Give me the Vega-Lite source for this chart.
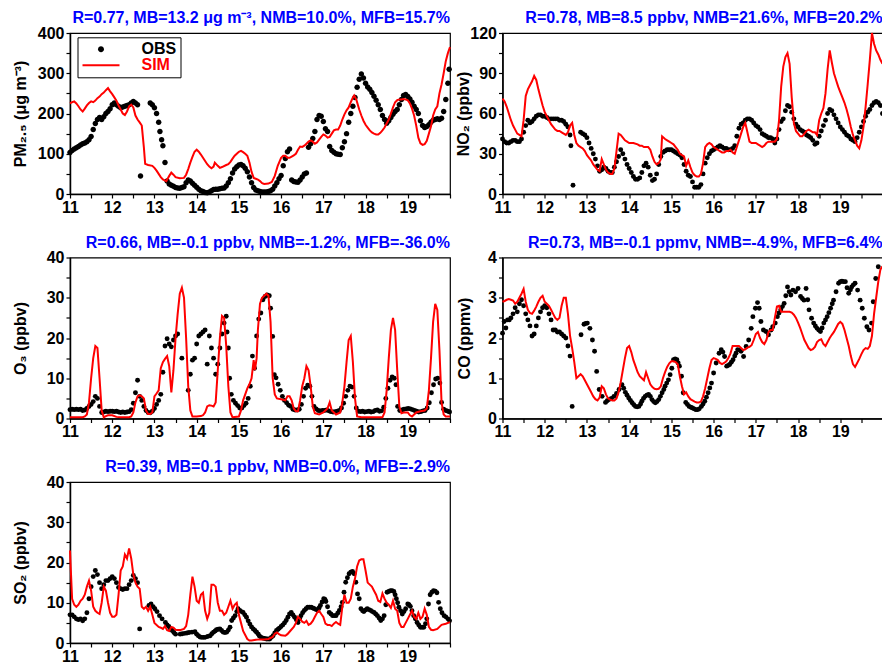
{
"$schema": "https://vega.github.io/schema/vega-lite/v6.json",
"padding": {"left": 11, "top": 9, "right": 0, "bottom": 0},
"background": "white",
"columns": 2,
"bounds": "flush",
"spacing": {"row": 63.5, "column": 52.5},
"resolve": {"scale": {"color": "independent", "shape": "independent"}, "legend": {"color": "independent", "shape": "independent"}},
"config": {
  "font": "Liberation Sans",
  "view": {"stroke": "black", "strokeWidth": 1.2},
  "axis": {"grid": false, "domainColor": "black", "domainWidth": 1.5, "tickColor": "black", "tickWidth": 1.2, "tickSize": 4, "labelFont": "Liberation Sans", "labelFontSize": 16, "labelFontWeight": "bold", "labelColor": "black", "labelPadding": 2, "labelFlush": false, "labelOverlap": false, "titleFont": "Liberation Sans", "titleFontSize": 16, "titleFontWeight": "bold", "titleColor": "black"},
  "axisX": {"labelPadding": 1},
  "title": {"font": "Liberation Sans", "fontSize": 16, "fontWeight": "bold", "color": "#0000ff", "anchor": "end", "frame": "group", "offset": -1}
},
"datasets": {
"pm_obs": [{"d":11.00,"v":103},{"d":11.05,"v":108},{"d":11.10,"v":112},{"d":11.15,"v":115},{"d":11.20,"v":118},{"d":11.25,"v":122},{"d":11.30,"v":125},{"d":11.35,"v":127},{"d":11.40,"v":130},{"d":11.45,"v":135},{"d":11.50,"v":143},{"d":11.55,"v":160},{"d":11.60,"v":175},{"d":11.65,"v":185},{"d":11.70,"v":190},{"d":11.75,"v":185},{"d":11.80,"v":192},{"d":11.85,"v":200},{"d":11.90,"v":205},{"d":11.95,"v":212},{"d":12.00,"v":222},{"d":12.05,"v":226},{"d":12.10,"v":222},{"d":12.15,"v":218},{"d":12.20,"v":214},{"d":12.25,"v":216},{"d":12.30,"v":218},{"d":12.35,"v":220},{"d":12.40,"v":222},{"d":12.45,"v":226},{"d":12.50,"v":230},{"d":12.55,"v":226},{"d":12.60,"v":222},{"d":12.67,"v":45},{"d":12.90,"v":226},{"d":12.95,"v":222},{"d":13.00,"v":214},{"d":13.05,"v":200},{"d":13.10,"v":178},{"d":13.13,"v":155},{"d":13.17,"v":135},{"d":13.20,"v":120},{"d":13.25,"v":78},{"d":13.30,"v":32},{"d":13.35,"v":25},{"d":13.40,"v":22},{"d":13.45,"v":19},{"d":13.50,"v":16},{"d":13.55,"v":15},{"d":13.60,"v":14},{"d":13.65,"v":16},{"d":13.70,"v":18},{"d":13.75,"v":28},{"d":13.80,"v":35},{"d":13.85,"v":32},{"d":13.90,"v":27},{"d":13.95,"v":22},{"d":14.00,"v":17},{"d":14.05,"v":12},{"d":14.10,"v":8},{"d":14.15,"v":6},{"d":14.20,"v":4},{"d":14.25,"v":3},{"d":14.30,"v":5},{"d":14.35,"v":8},{"d":14.40,"v":11},{"d":14.45,"v":12},{"d":14.50,"v":12},{"d":14.55,"v":13},{"d":14.60,"v":14},{"d":14.65,"v":15},{"d":14.70,"v":20},{"d":14.75,"v":28},{"d":14.80,"v":38},{"d":14.85,"v":52},{"d":14.90,"v":62},{"d":14.95,"v":68},{"d":15.00,"v":72},{"d":15.05,"v":73},{"d":15.10,"v":70},{"d":15.15,"v":64},{"d":15.20,"v":55},{"d":15.25,"v":42},{"d":15.30,"v":28},{"d":15.35,"v":16},{"d":15.40,"v":10},{"d":15.45,"v":8},{"d":15.50,"v":6},{"d":15.55,"v":5},{"d":15.60,"v":5},{"d":15.65,"v":5},{"d":15.70,"v":6},{"d":15.75,"v":8},{"d":15.80,"v":12},{"d":15.85,"v":20},{"d":15.90,"v":28},{"d":15.95,"v":38},{"d":16.00,"v":46},{"d":16.05,"v":70},{"d":16.10,"v":88},{"d":16.15,"v":105},{"d":16.20,"v":112},{"d":16.25,"v":35},{"d":16.30,"v":31},{"d":16.35,"v":30},{"d":16.40,"v":29},{"d":16.45,"v":35},{"d":16.50,"v":42},{"d":16.55,"v":50},{"d":16.60,"v":52},{"d":16.65,"v":116},{"d":16.70,"v":125},{"d":16.75,"v":138},{"d":16.80,"v":155},{"d":16.85,"v":185},{"d":16.90,"v":195},{"d":16.95,"v":193},{"d":17.00,"v":180},{"d":17.05,"v":162},{"d":17.10,"v":155},{"d":17.15,"v":118},{"d":17.20,"v":108},{"d":17.25,"v":104},{"d":17.30,"v":100},{"d":17.35,"v":99},{"d":17.40,"v":98},{"d":17.45,"v":115},{"d":17.50,"v":130},{"d":17.55,"v":150},{"d":17.60,"v":178},{"d":17.65,"v":200},{"d":17.70,"v":218},{"d":17.75,"v":240},{"d":17.80,"v":265},{"d":17.85,"v":285},{"d":17.90,"v":298},{"d":17.95,"v":288},{"d":18.00,"v":275},{"d":18.05,"v":266},{"d":18.10,"v":260},{"d":18.15,"v":252},{"d":18.20,"v":243},{"d":18.25,"v":233},{"d":18.30,"v":222},{"d":18.35,"v":210},{"d":18.40,"v":195},{"d":18.45,"v":185},{"d":18.50,"v":176},{"d":18.55,"v":182},{"d":18.60,"v":190},{"d":18.65,"v":198},{"d":18.70,"v":205},{"d":18.75,"v":210},{"d":18.80,"v":222},{"d":18.85,"v":235},{"d":18.90,"v":245},{"d":18.95,"v":247},{"d":19.00,"v":242},{"d":19.05,"v":236},{"d":19.10,"v":228},{"d":19.15,"v":218},{"d":19.20,"v":210},{"d":19.25,"v":200},{"d":19.30,"v":182},{"d":19.35,"v":170},{"d":19.40,"v":165},{"d":19.45,"v":168},{"d":19.50,"v":172},{"d":19.55,"v":178},{"d":19.60,"v":183},{"d":19.65,"v":185},{"d":19.70,"v":187},{"d":19.75,"v":185},{"d":19.80,"v":188},{"d":19.85,"v":205},{"d":19.90,"v":235},{"d":19.95,"v":275},{"d":19.98,"v":310}],
"pm_sim": [{"d":11.00,"v":225},{"d":11.05,"v":228},{"d":11.10,"v":230},{"d":11.15,"v":225},{"d":11.20,"v":218},{"d":11.25,"v":210},{"d":11.30,"v":205},{"d":11.35,"v":212},{"d":11.40,"v":220},{"d":11.45,"v":226},{"d":11.50,"v":230},{"d":11.55,"v":228},{"d":11.60,"v":232},{"d":11.65,"v":238},{"d":11.70,"v":242},{"d":11.75,"v":248},{"d":11.80,"v":252},{"d":11.85,"v":258},{"d":11.90,"v":263},{"d":11.95,"v":255},{"d":12.00,"v":248},{"d":12.05,"v":240},{"d":12.10,"v":232},{"d":12.15,"v":220},{"d":12.20,"v":210},{"d":12.25,"v":200},{"d":12.30,"v":196},{"d":12.35,"v":205},{"d":12.40,"v":218},{"d":12.45,"v":222},{"d":12.50,"v":215},{"d":12.55,"v":195},{"d":12.60,"v":185},{"d":12.65,"v":178},{"d":12.70,"v":170},{"d":12.75,"v":115},{"d":12.78,"v":75},{"d":12.85,"v":72},{"d":12.95,"v":70},{"d":13.00,"v":65},{"d":13.05,"v":58},{"d":13.10,"v":50},{"d":13.15,"v":42},{"d":13.20,"v":36},{"d":13.28,"v":32},{"d":13.35,"v":45},{"d":13.40,"v":53},{"d":13.45,"v":48},{"d":13.50,"v":42},{"d":13.60,"v":39},{"d":13.70,"v":40},{"d":13.75,"v":48},{"d":13.80,"v":62},{"d":13.85,"v":78},{"d":13.90,"v":92},{"d":13.95,"v":105},{"d":14.00,"v":110},{"d":14.05,"v":105},{"d":14.10,"v":98},{"d":14.15,"v":90},{"d":14.20,"v":82},{"d":14.25,"v":74},{"d":14.30,"v":68},{"d":14.35,"v":64},{"d":14.40,"v":68},{"d":14.43,"v":78},{"d":14.50,"v":70},{"d":14.55,"v":65},{"d":14.60,"v":67},{"d":14.70,"v":72},{"d":14.75,"v":74},{"d":14.80,"v":80},{"d":14.85,"v":88},{"d":14.90,"v":95},{"d":14.95,"v":100},{"d":15.00,"v":105},{"d":15.05,"v":107},{"d":15.10,"v":104},{"d":15.15,"v":100},{"d":15.20,"v":95},{"d":15.25,"v":78},{"d":15.30,"v":55},{"d":15.35,"v":40},{"d":15.40,"v":38},{"d":15.45,"v":36},{"d":15.50,"v":32},{"d":15.55,"v":27},{"d":15.60,"v":25},{"d":15.70,"v":26},{"d":15.78,"v":30},{"d":15.85,"v":45},{"d":15.92,"v":70},{"d":16.00,"v":90},{"d":16.05,"v":95},{"d":16.10,"v":95},{"d":16.15,"v":90},{"d":16.20,"v":90},{"d":16.25,"v":93},{"d":16.30,"v":96},{"d":16.35,"v":100},{"d":16.40,"v":110},{"d":16.45,"v":118},{"d":16.50,"v":117},{"d":16.55,"v":120},{"d":16.60,"v":125},{"d":16.65,"v":130},{"d":16.70,"v":133},{"d":16.75,"v":130},{"d":16.80,"v":125},{"d":16.85,"v":128},{"d":16.90,"v":135},{"d":16.95,"v":142},{"d":17.00,"v":148},{"d":17.05,"v":145},{"d":17.10,"v":140},{"d":17.15,"v":142},{"d":17.20,"v":150},{"d":17.25,"v":158},{"d":17.30,"v":160},{"d":17.35,"v":160},{"d":17.40,"v":170},{"d":17.45,"v":185},{"d":17.50,"v":198},{"d":17.55,"v":208},{"d":17.60,"v":215},{"d":17.65,"v":228},{"d":17.70,"v":240},{"d":17.73,"v":245},{"d":17.78,"v":235},{"d":17.85,"v":210},{"d":17.90,"v":195},{"d":17.95,"v":182},{"d":18.00,"v":172},{"d":18.05,"v":165},{"d":18.10,"v":158},{"d":18.15,"v":153},{"d":18.20,"v":150},{"d":18.25,"v":148},{"d":18.30,"v":148},{"d":18.35,"v":152},{"d":18.40,"v":158},{"d":18.45,"v":165},{"d":18.50,"v":175},{"d":18.55,"v":185},{"d":18.60,"v":200},{"d":18.65,"v":215},{"d":18.70,"v":228},{"d":18.75,"v":233},{"d":18.80,"v":235},{"d":18.85,"v":235},{"d":18.90,"v":236},{"d":18.95,"v":235},{"d":19.00,"v":233},{"d":19.05,"v":225},{"d":19.10,"v":212},{"d":19.15,"v":195},{"d":19.20,"v":170},{"d":19.25,"v":140},{"d":19.30,"v":126},{"d":19.35,"v":122},{"d":19.40,"v":124},{"d":19.45,"v":132},{"d":19.50,"v":150},{"d":19.55,"v":168},{"d":19.60,"v":195},{"d":19.65,"v":210},{"d":19.70,"v":218},{"d":19.75,"v":250},{"d":19.80,"v":272},{"d":19.85,"v":300},{"d":19.90,"v":330},{"d":19.95,"v":350},{"d":20.00,"v":365}],
"no2_obs": [{"d":11.00,"v":41},{"d":11.05,"v":39},{"d":11.10,"v":38},{"d":11.15,"v":38},{"d":11.20,"v":39},{"d":11.25,"v":40},{"d":11.30,"v":40},{"d":11.35,"v":39},{"d":11.40,"v":39},{"d":11.45,"v":41},{"d":11.50,"v":46},{"d":11.55,"v":51},{"d":11.60,"v":55},{"d":11.65,"v":53},{"d":11.70,"v":54},{"d":11.75,"v":56},{"d":11.80,"v":58},{"d":11.85,"v":59},{"d":11.90,"v":59},{"d":11.95,"v":58},{"d":12.00,"v":58},{"d":12.05,"v":57},{"d":12.10,"v":56},{"d":12.15,"v":56},{"d":12.20,"v":56},{"d":12.25,"v":56},{"d":12.30,"v":56},{"d":12.35,"v":55},{"d":12.40,"v":55},{"d":12.45,"v":54},{"d":12.50,"v":52},{"d":12.55,"v":50},{"d":12.60,"v":44},{"d":12.62,"v":36},{"d":12.67,"v":6.5},{"d":12.85,"v":46},{"d":12.90,"v":45},{"d":12.95,"v":44},{"d":13.00,"v":42},{"d":13.05,"v":38},{"d":13.10,"v":34},{"d":13.15,"v":30},{"d":13.20,"v":26},{"d":13.25,"v":21},{"d":13.30,"v":17},{"d":13.35,"v":18},{"d":13.40,"v":20},{"d":13.45,"v":19},{"d":13.50,"v":17},{"d":13.55,"v":16},{"d":13.60,"v":16},{"d":13.65,"v":20},{"d":13.70,"v":24},{"d":13.75,"v":28},{"d":13.80,"v":33},{"d":13.85,"v":30},{"d":13.90,"v":26},{"d":13.95,"v":22},{"d":14.00,"v":19},{"d":14.05,"v":16},{"d":14.10,"v":13},{"d":14.15,"v":11},{"d":14.20,"v":11},{"d":14.25,"v":12},{"d":14.30,"v":16},{"d":14.35,"v":21},{"d":14.40,"v":23},{"d":14.45,"v":20},{"d":14.50,"v":14},{"d":14.55,"v":10},{"d":14.60,"v":11},{"d":14.65,"v":15},{"d":14.70,"v":22},{"d":14.75,"v":28},{"d":14.80,"v":31},{"d":14.85,"v":32},{"d":14.90,"v":33},{"d":14.95,"v":33},{"d":15.00,"v":33},{"d":15.05,"v":32},{"d":15.10,"v":31},{"d":15.15,"v":30},{"d":15.20,"v":29},{"d":15.25,"v":27},{"d":15.30,"v":22},{"d":15.35,"v":17},{"d":15.40,"v":14},{"d":15.45,"v":13},{"d":15.50,"v":9},{"d":15.55,"v":5},{"d":15.60,"v":5},{"d":15.65,"v":5},{"d":15.70,"v":7},{"d":15.75,"v":15},{"d":15.80,"v":23},{"d":15.85,"v":27},{"d":15.90,"v":30},{"d":15.95,"v":32},{"d":16.00,"v":33},{"d":16.05,"v":34},{"d":16.10,"v":35},{"d":16.15,"v":36},{"d":16.20,"v":35},{"d":16.25,"v":34},{"d":16.30,"v":34},{"d":16.35,"v":33},{"d":16.40,"v":33},{"d":16.45,"v":34},{"d":16.50,"v":36},{"d":16.55,"v":43},{"d":16.60,"v":49},{"d":16.65,"v":52},{"d":16.70,"v":53},{"d":16.75,"v":55},{"d":16.80,"v":56},{"d":16.85,"v":56},{"d":16.90,"v":55},{"d":16.95,"v":53},{"d":17.00,"v":51},{"d":17.05,"v":50},{"d":17.10,"v":48},{"d":17.15,"v":45},{"d":17.20,"v":44},{"d":17.25,"v":43},{"d":17.30,"v":42},{"d":17.35,"v":42},{"d":17.40,"v":41},{"d":17.45,"v":38},{"d":17.50,"v":41},{"d":17.55,"v":48},{"d":17.60,"v":54},{"d":17.65,"v":56},{"d":17.70,"v":62},{"d":17.75,"v":66},{"d":17.80,"v":65},{"d":17.85,"v":61},{"d":17.90,"v":56},{"d":17.95,"v":52},{"d":18.00,"v":50},{"d":18.05,"v":48},{"d":18.10,"v":47},{"d":18.15,"v":46},{"d":18.20,"v":44},{"d":18.25,"v":43},{"d":18.30,"v":42},{"d":18.35,"v":40},{"d":18.40,"v":37},{"d":18.45,"v":38},{"d":18.50,"v":43},{"d":18.55,"v":47},{"d":18.60,"v":51},{"d":18.65,"v":55},{"d":18.70,"v":60},{"d":18.75,"v":63},{"d":18.80,"v":62},{"d":18.85,"v":59},{"d":18.90,"v":56},{"d":18.95,"v":53},{"d":19.00,"v":50},{"d":19.05,"v":48},{"d":19.10,"v":46},{"d":19.15,"v":44},{"d":19.20,"v":43},{"d":19.25,"v":41},{"d":19.30,"v":40},{"d":19.35,"v":39},{"d":19.40,"v":42},{"d":19.45,"v":46},{"d":19.50,"v":50},{"d":19.55,"v":54},{"d":19.60,"v":58},{"d":19.65,"v":61},{"d":19.70,"v":63},{"d":19.75,"v":66},{"d":19.80,"v":68},{"d":19.85,"v":69},{"d":19.90,"v":68},{"d":19.95,"v":66},{"d":20.00,"v":60}],
"no2_sim": [{"d":11.00,"v":71},{"d":11.05,"v":69},{"d":11.10,"v":65},{"d":11.15,"v":60},{"d":11.20,"v":55},{"d":11.25,"v":51},{"d":11.30,"v":48},{"d":11.35,"v":45},{"d":11.40,"v":44},{"d":11.45,"v":43},{"d":11.50,"v":55},{"d":11.55,"v":73},{"d":11.60,"v":78},{"d":11.65,"v":81},{"d":11.70,"v":84},{"d":11.75,"v":88},{"d":11.80,"v":85},{"d":11.85,"v":78},{"d":11.90,"v":72},{"d":11.95,"v":66},{"d":12.00,"v":61},{"d":12.05,"v":58},{"d":12.10,"v":55},{"d":12.15,"v":52},{"d":12.20,"v":50},{"d":12.25,"v":48},{"d":12.30,"v":47},{"d":12.35,"v":47},{"d":12.40,"v":46},{"d":12.45,"v":45},{"d":12.50,"v":44},{"d":12.55,"v":46},{"d":12.60,"v":51},{"d":12.65,"v":53},{"d":12.70,"v":44},{"d":12.75,"v":38},{"d":12.80,"v":36},{"d":12.85,"v":35},{"d":12.90,"v":34},{"d":12.95,"v":32},{"d":13.00,"v":29},{"d":13.05,"v":27},{"d":13.10,"v":25},{"d":13.15,"v":22},{"d":13.20,"v":20},{"d":13.25,"v":18},{"d":13.30,"v":17},{"d":13.35,"v":26},{"d":13.40,"v":22},{"d":13.45,"v":18},{"d":13.50,"v":16},{"d":13.55,"v":15},{"d":13.60,"v":15},{"d":13.65,"v":19},{"d":13.70,"v":32},{"d":13.75,"v":45},{"d":13.80,"v":44},{"d":13.85,"v":42},{"d":13.90,"v":40},{"d":13.95,"v":39},{"d":14.00,"v":38},{"d":14.10,"v":38},{"d":14.20,"v":37},{"d":14.25,"v":36},{"d":14.30,"v":36},{"d":14.35,"v":35},{"d":14.45,"v":35},{"d":14.50,"v":33},{"d":14.55,"v":28},{"d":14.60,"v":24},{"d":14.65,"v":22},{"d":14.70,"v":23},{"d":14.75,"v":26},{"d":14.78,"v":43},{"d":14.85,"v":41},{"d":14.90,"v":40},{"d":14.95,"v":39},{"d":15.00,"v":38},{"d":15.05,"v":37},{"d":15.10,"v":35},{"d":15.15,"v":33},{"d":15.20,"v":30},{"d":15.25,"v":29},{"d":15.30,"v":28},{"d":15.35,"v":21},{"d":15.40,"v":25},{"d":15.45,"v":20},{"d":15.50,"v":16},{"d":15.55,"v":14},{"d":15.60,"v":13},{"d":15.65,"v":13},{"d":15.70,"v":15},{"d":15.75,"v":23},{"d":15.80,"v":35},{"d":15.85,"v":37},{"d":15.90,"v":38},{"d":15.95,"v":37},{"d":16.00,"v":35},{"d":16.05,"v":34},{"d":16.10,"v":33},{"d":16.15,"v":32},{"d":16.20,"v":31},{"d":16.25,"v":31},{"d":16.30,"v":32},{"d":16.35,"v":32},{"d":16.40,"v":33},{"d":16.45,"v":31},{"d":16.50,"v":30},{"d":16.55,"v":35},{"d":16.60,"v":40},{"d":16.65,"v":45},{"d":16.70,"v":50},{"d":16.75,"v":53},{"d":16.80,"v":46},{"d":16.85,"v":39},{"d":16.90,"v":38},{"d":17.00,"v":38},{"d":17.05,"v":37},{"d":17.10,"v":36},{"d":17.15,"v":35},{"d":17.20,"v":36},{"d":17.25,"v":38},{"d":17.30,"v":39},{"d":17.45,"v":39},{"d":17.50,"v":41},{"d":17.55,"v":55},{"d":17.60,"v":80},{"d":17.65,"v":95},{"d":17.70,"v":102},{"d":17.75,"v":105},{"d":17.80,"v":97},{"d":17.85,"v":72},{"d":17.90,"v":53},{"d":17.95,"v":47},{"d":18.00,"v":45},{"d":18.05,"v":43},{"d":18.10,"v":43},{"d":18.15,"v":45},{"d":18.20,"v":47},{"d":18.25,"v":48},{"d":18.30,"v":47},{"d":18.35,"v":46},{"d":18.40,"v":46},{"d":18.45,"v":44},{"d":18.50,"v":55},{"d":18.55,"v":60},{"d":18.60,"v":64},{"d":18.65,"v":75},{"d":18.70,"v":93},{"d":18.75,"v":107},{"d":18.80,"v":98},{"d":18.85,"v":90},{"d":18.90,"v":85},{"d":18.95,"v":80},{"d":19.00,"v":76},{"d":19.05,"v":72},{"d":19.10,"v":68},{"d":19.15,"v":63},{"d":19.20,"v":57},{"d":19.25,"v":50},{"d":19.30,"v":44},{"d":19.35,"v":40},{"d":19.40,"v":36},{"d":19.45,"v":34},{"d":19.50,"v":40},{"d":19.55,"v":50},{"d":19.60,"v":65},{"d":19.65,"v":82},{"d":19.70,"v":100},{"d":19.75,"v":120},{"d":19.80,"v":112},{"d":19.85,"v":107},{"d":19.90,"v":104},{"d":19.95,"v":100},{"d":20.00,"v":97}],
"o3_obs": [{"d":11.00,"v":2.2},{"d":11.05,"v":2.3},{"d":11.10,"v":2.2},{"d":11.15,"v":2.3},{"d":11.20,"v":2.2},{"d":11.25,"v":2.3},{"d":11.30,"v":2.0},{"d":11.35,"v":2.1},{"d":11.40,"v":2.5},{"d":11.45,"v":3.0},{"d":11.50,"v":3.5},{"d":11.55,"v":4.2},{"d":11.60,"v":5.5},{"d":11.65,"v":5.0},{"d":11.70,"v":3.0},{"d":11.75,"v":1.5},{"d":11.80,"v":1.6},{"d":11.85,"v":1.8},{"d":11.90,"v":1.7},{"d":11.95,"v":1.8},{"d":12.00,"v":1.8},{"d":12.05,"v":1.7},{"d":12.10,"v":1.8},{"d":12.15,"v":1.6},{"d":12.20,"v":1.5},{"d":12.25,"v":1.6},{"d":12.30,"v":1.5},{"d":12.35,"v":1.6},{"d":12.40,"v":1.7},{"d":12.45,"v":2.2},{"d":12.50,"v":3.8},{"d":12.55,"v":6.4},{"d":12.60,"v":9.5},{"d":12.65,"v":5.5},{"d":12.70,"v":4.5},{"d":12.75,"v":3.0},{"d":12.80,"v":2.0},{"d":12.85,"v":1.5},{"d":12.90,"v":1.4},{"d":12.95,"v":1.8},{"d":13.00,"v":2.5},{"d":13.05,"v":3.5},{"d":13.10,"v":4.5},{"d":13.15,"v":6.0},{"d":13.20,"v":11.5},{"d":13.25,"v":18.0},{"d":13.30,"v":19.8},{"d":13.35,"v":18.5},{"d":13.40,"v":17.8},{"d":13.45,"v":19.5},{"d":13.50,"v":20.5},{"d":13.55,"v":21.0},{"d":13.65,"v":15.0},{"d":13.80,"v":7.0},{"d":13.85,"v":11.0},{"d":13.90,"v":14.5},{"d":13.95,"v":15.0},{"d":14.00,"v":18.5},{"d":14.05,"v":20.5},{"d":14.10,"v":21.0},{"d":14.15,"v":21.5},{"d":14.20,"v":22.0},{"d":14.25,"v":13.5},{"d":14.30,"v":20.5},{"d":14.35,"v":17.5},{"d":14.40,"v":15.0},{"d":14.45,"v":11.0},{"d":14.50,"v":13.5},{"d":14.55,"v":17.5},{"d":14.60,"v":21.0},{"d":14.65,"v":23.7},{"d":14.70,"v":25.4},{"d":14.72,"v":21.5},{"d":14.75,"v":17.5},{"d":14.78,"v":10.0},{"d":14.82,"v":6.0},{"d":14.87,"v":4.5},{"d":14.92,"v":3.8},{"d":14.97,"v":3.2},{"d":15.02,"v":2.6},{"d":15.07,"v":2.6},{"d":15.12,"v":3.2},{"d":15.17,"v":3.8},{"d":15.22,"v":5.0},{"d":15.27,"v":8.0},{"d":15.32,"v":15.5},{"d":15.37,"v":12.5},{"d":15.42,"v":20.5},{"d":15.47,"v":24.7},{"d":15.52,"v":26.2},{"d":15.57,"v":29.5},{"d":15.62,"v":30.3},{"d":15.67,"v":30.7},{"d":15.72,"v":30.5},{"d":15.75,"v":27.4},{"d":15.80,"v":20.4},{"d":15.84,"v":10.9},{"d":15.88,"v":10.1},{"d":15.93,"v":8.5},{"d":15.98,"v":7.0},{"d":16.03,"v":5.5},{"d":16.08,"v":4.5},{"d":16.13,"v":3.9},{"d":16.18,"v":3.3},{"d":16.23,"v":3.0},{"d":16.28,"v":2.3},{"d":16.33,"v":2.1},{"d":16.38,"v":2.1},{"d":16.43,"v":2.3},{"d":16.48,"v":3.5},{"d":16.53,"v":5.5},{"d":16.58,"v":7.5},{"d":16.63,"v":8.3},{"d":16.68,"v":8.0},{"d":16.73,"v":5.5},{"d":16.78,"v":3.0},{"d":16.83,"v":2.4},{"d":16.88,"v":2.0},{"d":16.93,"v":1.9},{"d":16.98,"v":2.0},{"d":17.03,"v":2.0},{"d":17.08,"v":2.1},{"d":17.13,"v":1.9},{"d":17.18,"v":1.7},{"d":17.23,"v":1.6},{"d":17.28,"v":1.7},{"d":17.33,"v":1.8},{"d":17.38,"v":2.0},{"d":17.43,"v":2.6},{"d":17.48,"v":3.8},{"d":17.53,"v":5.5},{"d":17.58,"v":7.0},{"d":17.63,"v":8.0},{"d":17.68,"v":7.8},{"d":17.73,"v":5.5},{"d":17.78,"v":2.6},{"d":17.83,"v":1.8},{"d":17.88,"v":1.7},{"d":17.93,"v":1.8},{"d":17.98,"v":1.6},{"d":18.03,"v":1.7},{"d":18.08,"v":1.8},{"d":18.13,"v":1.6},{"d":18.18,"v":1.7},{"d":18.23,"v":2.0},{"d":18.28,"v":2.1},{"d":18.33,"v":1.8},{"d":18.38,"v":1.9},{"d":18.43,"v":2.8},{"d":18.48,"v":5.0},{"d":18.53,"v":7.5},{"d":18.58,"v":9.5},{"d":18.63,"v":10.3},{"d":18.68,"v":10.0},{"d":18.72,"v":8.4},{"d":18.76,"v":3.0},{"d":18.81,"v":2.0},{"d":18.86,"v":2.1},{"d":18.91,"v":2.3},{"d":18.96,"v":2.4},{"d":19.01,"v":2.5},{"d":19.06,"v":2.4},{"d":19.11,"v":2.2},{"d":19.16,"v":2.0},{"d":19.21,"v":1.8},{"d":19.26,"v":1.6},{"d":19.31,"v":1.7},{"d":19.36,"v":1.9},{"d":19.41,"v":2.0},{"d":19.46,"v":2.6},{"d":19.51,"v":3.9},{"d":19.56,"v":6.4},{"d":19.61,"v":8.4},{"d":19.66,"v":9.8},{"d":19.71,"v":10.0},{"d":19.76,"v":8.8},{"d":19.80,"v":4.0},{"d":19.85,"v":2.3},{"d":19.90,"v":2.0},{"d":19.95,"v":1.8},{"d":19.99,"v":1.6}],
"o3_sim": [{"d":11.00,"v":0.3},{"d":11.30,"v":0.3},{"d":11.35,"v":0.5},{"d":11.40,"v":1.0},{"d":11.45,"v":4.0},{"d":11.50,"v":10.0},{"d":11.55,"v":15.0},{"d":11.60,"v":18.0},{"d":11.65,"v":17.5},{"d":11.70,"v":10.0},{"d":11.75,"v":2.0},{"d":11.80,"v":0.3},{"d":11.85,"v":0.6},{"d":11.90,"v":0.8},{"d":12.00,"v":0.8},{"d":12.10,"v":0.4},{"d":12.20,"v":0.3},{"d":12.40,"v":0.3},{"d":12.45,"v":0.5},{"d":12.50,"v":1.5},{"d":12.55,"v":4.0},{"d":12.60,"v":5.5},{"d":12.65,"v":5.8},{"d":12.70,"v":5.5},{"d":12.75,"v":5.0},{"d":12.80,"v":2.0},{"d":12.85,"v":1.1},{"d":12.90,"v":1.1},{"d":12.95,"v":1.5},{"d":13.00,"v":5.5},{"d":13.05,"v":6.2},{"d":13.10,"v":7.0},{"d":13.15,"v":12.5},{"d":13.20,"v":14.0},{"d":13.25,"v":14.8},{"d":13.30,"v":15.5},{"d":13.35,"v":13.0},{"d":13.40,"v":6.5},{"d":13.45,"v":12.0},{"d":13.50,"v":20.0},{"d":13.55,"v":26.0},{"d":13.60,"v":31.0},{"d":13.65,"v":32.5},{"d":13.70,"v":30.0},{"d":13.75,"v":20.0},{"d":13.80,"v":8.0},{"d":13.85,"v":2.0},{"d":13.90,"v":0.5},{"d":14.00,"v":0.5},{"d":14.10,"v":0.6},{"d":14.15,"v":0.8},{"d":14.20,"v":1.5},{"d":14.25,"v":3.0},{"d":14.30,"v":3.3},{"d":14.35,"v":3.2},{"d":14.40,"v":3.0},{"d":14.45,"v":4.0},{"d":14.50,"v":12.0},{"d":14.55,"v":20.0},{"d":14.60,"v":25.5},{"d":14.65,"v":25.0},{"d":14.70,"v":18.0},{"d":14.75,"v":8.0},{"d":14.80,"v":1.5},{"d":14.85,"v":0.3},{"d":14.90,"v":0.4},{"d":15.00,"v":0.5},{"d":15.05,"v":2.0},{"d":15.10,"v":4.5},{"d":15.15,"v":6.0},{"d":15.20,"v":7.5},{"d":15.25,"v":8.5},{"d":15.30,"v":10.0},{"d":15.35,"v":14.5},{"d":15.38,"v":12.0},{"d":15.42,"v":15.0},{"d":15.45,"v":22.0},{"d":15.50,"v":28.5},{"d":15.55,"v":30.0},{"d":15.60,"v":30.5},{"d":15.65,"v":31.0},{"d":15.70,"v":30.5},{"d":15.75,"v":24.0},{"d":15.80,"v":10.0},{"d":15.85,"v":6.0},{"d":15.90,"v":5.0},{"d":16.00,"v":4.8},{"d":16.10,"v":4.5},{"d":16.15,"v":5.5},{"d":16.20,"v":5.5},{"d":16.25,"v":4.5},{"d":16.30,"v":2.5},{"d":16.35,"v":1.8},{"d":16.40,"v":1.8},{"d":16.45,"v":4.5},{"d":16.50,"v":8.0},{"d":16.55,"v":10.0},{"d":16.60,"v":13.0},{"d":16.65,"v":12.0},{"d":16.70,"v":8.0},{"d":16.75,"v":3.0},{"d":16.80,"v":1.3},{"d":16.90,"v":1.0},{"d":17.00,"v":1.5},{"d":17.10,"v":2.5},{"d":17.15,"v":4.0},{"d":17.20,"v":2.0},{"d":17.30,"v":1.0},{"d":17.40,"v":1.5},{"d":17.45,"v":4.0},{"d":17.50,"v":8.0},{"d":17.55,"v":14.0},{"d":17.60,"v":19.5},{"d":17.65,"v":20.5},{"d":17.70,"v":14.0},{"d":17.75,"v":5.0},{"d":17.80,"v":0.5},{"d":17.90,"v":0.3},{"d":18.40,"v":0.3},{"d":18.45,"v":1.5},{"d":18.50,"v":7.0},{"d":18.55,"v":15.0},{"d":18.60,"v":22.0},{"d":18.65,"v":25.0},{"d":18.70,"v":22.0},{"d":18.75,"v":12.0},{"d":18.80,"v":3.0},{"d":18.85,"v":1.3},{"d":18.90,"v":1.5},{"d":19.00,"v":1.5},{"d":19.05,"v":0.8},{"d":19.10,"v":0.5},{"d":19.15,"v":1.0},{"d":19.20,"v":1.5},{"d":19.30,"v":1.8},{"d":19.40,"v":2.0},{"d":19.45,"v":2.5},{"d":19.50,"v":7.0},{"d":19.55,"v":15.0},{"d":19.60,"v":24.0},{"d":19.65,"v":28.5},{"d":19.70,"v":27.0},{"d":19.75,"v":17.0},{"d":19.80,"v":4.0},{"d":19.85,"v":1.0},{"d":19.90,"v":0.5},{"d":20.00,"v":0.5}],
"co_obs": [{"d":11.00,"v":2.12},{"d":11.04,"v":2.41},{"d":11.08,"v":2.25},{"d":11.12,"v":2.45},{"d":11.16,"v":2.45},{"d":11.20,"v":2.5},{"d":11.25,"v":2.6},{"d":11.30,"v":2.75},{"d":11.35,"v":2.65},{"d":11.40,"v":2.85},{"d":11.45,"v":2.95},{"d":11.50,"v":2.8},{"d":11.55,"v":2.6},{"d":11.60,"v":2.45},{"d":11.65,"v":2.3},{"d":11.70,"v":2.05},{"d":11.75,"v":2.1},{"d":11.80,"v":2.3},{"d":11.85,"v":2.5},{"d":11.90,"v":2.65},{"d":11.95,"v":2.75},{"d":12.00,"v":2.8},{"d":12.05,"v":2.75},{"d":12.10,"v":2.6},{"d":12.15,"v":2.45},{"d":12.20,"v":2.2},{"d":12.25,"v":2.2},{"d":12.30,"v":2.15},{"d":12.35,"v":2.15},{"d":12.40,"v":2.1},{"d":12.45,"v":2.05},{"d":12.50,"v":2.0},{"d":12.55,"v":1.8},{"d":12.60,"v":1.55},{"d":12.65,"v":0.3},{"d":12.86,"v":2.08},{"d":12.93,"v":2.34},{"d":12.97,"v":2.36},{"d":13.01,"v":2.37},{"d":13.07,"v":2.24},{"d":13.13,"v":1.95},{"d":13.18,"v":1.67},{"d":13.23,"v":1.17},{"d":13.29,"v":0.72},{"d":13.36,"v":0.55},{"d":13.44,"v":0.40},{"d":13.48,"v":0.44},{"d":13.52,"v":0.47},{"d":13.58,"v":0.5},{"d":13.64,"v":0.55},{"d":13.70,"v":0.62},{"d":13.76,"v":0.72},{"d":13.83,"v":0.84},{"d":13.87,"v":0.75},{"d":13.91,"v":0.65},{"d":13.95,"v":0.58},{"d":13.99,"v":0.51},{"d":14.03,"v":0.45},{"d":14.07,"v":0.39},{"d":14.11,"v":0.34},{"d":14.15,"v":0.30},{"d":14.19,"v":0.29},{"d":14.23,"v":0.30},{"d":14.27,"v":0.36},{"d":14.30,"v":0.43},{"d":14.34,"v":0.5},{"d":14.38,"v":0.55},{"d":14.42,"v":0.58},{"d":14.46,"v":0.60},{"d":14.50,"v":0.55},{"d":14.54,"v":0.47},{"d":14.58,"v":0.42},{"d":14.62,"v":0.39},{"d":14.66,"v":0.42},{"d":14.70,"v":0.47},{"d":14.74,"v":0.55},{"d":14.78,"v":0.64},{"d":14.82,"v":0.72},{"d":14.85,"v":0.80},{"d":14.89,"v":0.88},{"d":14.93,"v":0.96},{"d":14.97,"v":1.09},{"d":15.01,"v":1.25},{"d":15.05,"v":1.46},{"d":15.09,"v":1.48},{"d":15.13,"v":1.46},{"d":15.16,"v":1.38},{"d":15.19,"v":1.30},{"d":15.24,"v":1.05},{"d":15.28,"v":0.64},{"d":15.34,"v":0.40},{"d":15.38,"v":0.35},{"d":15.42,"v":0.30},{"d":15.46,"v":0.28},{"d":15.50,"v":0.26},{"d":15.54,"v":0.24},{"d":15.58,"v":0.22},{"d":15.62,"v":0.22},{"d":15.66,"v":0.24},{"d":15.71,"v":0.30},{"d":15.75,"v":0.36},{"d":15.79,"v":0.43},{"d":15.83,"v":0.53},{"d":15.87,"v":0.64},{"d":15.91,"v":0.76},{"d":15.95,"v":0.88},{"d":16.00,"v":1.13},{"d":16.06,"v":1.38},{"d":16.13,"v":1.62},{"d":16.18,"v":1.71},{"d":16.22,"v":1.65},{"d":16.26,"v":1.54},{"d":16.31,"v":1.30},{"d":16.35,"v":1.32},{"d":16.38,"v":1.34},{"d":16.42,"v":1.40},{"d":16.46,"v":1.46},{"d":16.50,"v":1.55},{"d":16.53,"v":1.62},{"d":16.57,"v":1.71},{"d":16.61,"v":1.70},{"d":16.65,"v":1.67},{"d":16.71,"v":1.54},{"d":16.77,"v":1.79},{"d":16.83,"v":1.95},{"d":16.89,"v":2.24},{"d":16.93,"v":2.53},{"d":16.99,"v":2.74},{"d":17.04,"v":2.88},{"d":17.08,"v":2.74},{"d":17.12,"v":2.41},{"d":17.18,"v":2.20},{"d":17.24,"v":2.16},{"d":17.30,"v":2.08},{"d":17.36,"v":2.20},{"d":17.40,"v":2.28},{"d":17.46,"v":2.37},{"d":17.51,"v":2.53},{"d":17.55,"v":2.62},{"d":17.59,"v":2.70},{"d":17.63,"v":2.78},{"d":17.67,"v":2.86},{"d":17.71,"v":3.05},{"d":17.75,"v":3.27},{"d":17.79,"v":3.15},{"d":17.83,"v":3.07},{"d":17.88,"v":3.19},{"d":17.94,"v":3.15},{"d":18.00,"v":3.23},{"d":18.06,"v":3.03},{"d":18.10,"v":2.98},{"d":18.14,"v":2.94},{"d":18.19,"v":3.23},{"d":18.23,"v":2.95},{"d":18.26,"v":2.70},{"d":18.32,"v":2.49},{"d":18.37,"v":2.37},{"d":18.41,"v":2.30},{"d":18.45,"v":2.24},{"d":18.49,"v":2.2},{"d":18.53,"v":2.16},{"d":18.57,"v":2.25},{"d":18.61,"v":2.37},{"d":18.65,"v":2.45},{"d":18.69,"v":2.53},{"d":18.73,"v":2.63},{"d":18.77,"v":2.74},{"d":18.81,"v":2.85},{"d":18.84,"v":2.94},{"d":18.90,"v":3.15},{"d":18.96,"v":3.36},{"d":19.00,"v":3.40},{"d":19.04,"v":3.41},{"d":19.08,"v":3.40},{"d":19.12,"v":3.40},{"d":19.16,"v":3.25},{"d":19.20,"v":3.11},{"d":19.24,"v":3.2},{"d":19.27,"v":3.27},{"d":19.31,"v":3.32},{"d":19.35,"v":3.36},{"d":19.41,"v":3.19},{"d":19.47,"v":2.94},{"d":19.52,"v":2.74},{"d":19.57,"v":2.49},{"d":19.63,"v":2.28},{"d":19.68,"v":2.20},{"d":19.74,"v":2.37},{"d":19.78,"v":2.90},{"d":19.84,"v":3.48},{"d":19.90,"v":3.77}],
"co_sim": [{"d":11.00,"v":2.9},{"d":11.05,"v":2.92},{"d":11.10,"v":2.95},{"d":11.15,"v":2.97},{"d":11.20,"v":2.95},{"d":11.25,"v":2.93},{"d":11.30,"v":2.85},{"d":11.35,"v":2.9},{"d":11.40,"v":3.0},{"d":11.45,"v":3.1},{"d":11.50,"v":3.22},{"d":11.55,"v":2.9},{"d":11.60,"v":2.7},{"d":11.65,"v":2.62},{"d":11.70,"v":2.6},{"d":11.75,"v":2.68},{"d":11.80,"v":2.78},{"d":11.85,"v":2.9},{"d":11.90,"v":3.0},{"d":11.95,"v":3.05},{"d":12.00,"v":2.9},{"d":12.05,"v":2.85},{"d":12.10,"v":2.8},{"d":12.15,"v":2.7},{"d":12.20,"v":2.6},{"d":12.25,"v":2.5},{"d":12.30,"v":2.45},{"d":12.35,"v":2.5},{"d":12.40,"v":2.8},{"d":12.45,"v":3.0},{"d":12.50,"v":3.0},{"d":12.55,"v":2.6},{"d":12.60,"v":2.05},{"d":12.65,"v":1.75},{"d":12.70,"v":1.4},{"d":12.75,"v":1.0},{"d":12.80,"v":1.05},{"d":12.85,"v":1.1},{"d":12.90,"v":1.05},{"d":12.95,"v":0.95},{"d":13.00,"v":0.85},{"d":13.05,"v":0.75},{"d":13.10,"v":0.65},{"d":13.15,"v":0.55},{"d":13.20,"v":0.48},{"d":13.25,"v":0.45},{"d":13.30,"v":0.52},{"d":13.35,"v":0.8},{"d":13.40,"v":0.75},{"d":13.45,"v":0.6},{"d":13.50,"v":0.5},{"d":13.55,"v":0.47},{"d":13.60,"v":0.45},{"d":13.65,"v":0.45},{"d":13.70,"v":0.5},{"d":13.75,"v":0.65},{"d":13.80,"v":0.9},{"d":13.85,"v":1.2},{"d":13.90,"v":1.5},{"d":13.95,"v":1.75},{"d":14.00,"v":1.8},{"d":14.05,"v":1.65},{"d":14.10,"v":1.45},{"d":14.15,"v":1.3},{"d":14.20,"v":1.15},{"d":14.25,"v":1.05},{"d":14.30,"v":1.0},{"d":14.35,"v":0.95},{"d":14.40,"v":1.15},{"d":14.45,"v":1.0},{"d":14.50,"v":0.85},{"d":14.55,"v":0.78},{"d":14.60,"v":0.74},{"d":14.65,"v":0.73},{"d":14.70,"v":0.74},{"d":14.75,"v":0.8},{"d":14.80,"v":1.0},{"d":14.85,"v":1.15},{"d":14.90,"v":1.28},{"d":14.95,"v":1.37},{"d":15.00,"v":1.42},{"d":15.05,"v":1.42},{"d":15.10,"v":1.4},{"d":15.15,"v":1.35},{"d":15.20,"v":1.05},{"d":15.25,"v":0.8},{"d":15.30,"v":0.6},{"d":15.35,"v":0.65},{"d":15.40,"v":0.55},{"d":15.45,"v":0.48},{"d":15.50,"v":0.45},{"d":15.55,"v":0.42},{"d":15.60,"v":0.4},{"d":15.65,"v":0.4},{"d":15.70,"v":0.42},{"d":15.75,"v":0.55},{"d":15.80,"v":0.75},{"d":15.85,"v":1.0},{"d":15.90,"v":1.25},{"d":15.95,"v":1.45},{"d":16.00,"v":1.5},{"d":16.05,"v":1.48},{"d":16.10,"v":1.45},{"d":16.15,"v":1.38},{"d":16.20,"v":1.35},{"d":16.25,"v":1.38},{"d":16.30,"v":1.42},{"d":16.35,"v":1.5},{"d":16.40,"v":1.62},{"d":16.45,"v":1.8},{"d":16.60,"v":1.8},{"d":16.65,"v":1.75},{"d":16.70,"v":1.7},{"d":16.75,"v":1.72},{"d":16.80,"v":1.76},{"d":16.85,"v":1.78},{"d":16.90,"v":1.82},{"d":16.95,"v":1.95},{"d":17.00,"v":2.1},{"d":17.05,"v":2.15},{"d":17.10,"v":2.0},{"d":17.15,"v":1.9},{"d":17.20,"v":1.85},{"d":17.25,"v":1.95},{"d":17.30,"v":2.15},{"d":17.35,"v":2.2},{"d":17.40,"v":2.2},{"d":17.45,"v":2.5},{"d":17.50,"v":2.78},{"d":17.55,"v":2.8},{"d":17.60,"v":2.65},{"d":17.80,"v":2.65},{"d":17.85,"v":2.63},{"d":17.90,"v":2.58},{"d":17.95,"v":2.5},{"d":18.00,"v":2.38},{"d":18.05,"v":2.25},{"d":18.10,"v":2.1},{"d":18.15,"v":1.95},{"d":18.20,"v":1.85},{"d":18.25,"v":1.75},{"d":18.30,"v":1.7},{"d":18.35,"v":1.72},{"d":18.40,"v":1.78},{"d":18.45,"v":1.9},{"d":18.50,"v":1.95},{"d":18.55,"v":1.97},{"d":18.60,"v":1.85},{"d":18.65,"v":1.8},{"d":18.70,"v":1.9},{"d":18.75,"v":2.0},{"d":18.80,"v":2.08},{"d":18.85,"v":2.15},{"d":18.90,"v":2.25},{"d":18.95,"v":2.35},{"d":19.00,"v":2.4},{"d":19.05,"v":2.35},{"d":19.10,"v":2.2},{"d":19.15,"v":2.0},{"d":19.20,"v":1.8},{"d":19.25,"v":1.55},{"d":19.30,"v":1.35},{"d":19.35,"v":1.28},{"d":19.40,"v":1.38},{"d":19.45,"v":1.48},{"d":19.50,"v":1.6},{"d":19.55,"v":1.7},{"d":19.60,"v":1.75},{"d":19.65,"v":1.73},{"d":19.70,"v":1.8},{"d":19.75,"v":2.05},{"d":19.80,"v":2.6},{"d":19.85,"v":3.0},{"d":19.90,"v":3.4},{"d":19.95,"v":3.7},{"d":20.00,"v":3.78}],
"so2_obs": [{"d":11.00,"v":7.0},{"d":11.05,"v":7.0},{"d":11.10,"v":6.5},{"d":11.15,"v":6.0},{"d":11.20,"v":5.8},{"d":11.25,"v":6.0},{"d":11.30,"v":5.5},{"d":11.35,"v":6.0},{"d":11.40,"v":7.5},{"d":11.45,"v":11.0},{"d":11.50,"v":14.0},{"d":11.55,"v":16.5},{"d":11.60,"v":18.0},{"d":11.65,"v":17.0},{"d":11.70,"v":15.0},{"d":11.75,"v":13.5},{"d":11.80,"v":14.5},{"d":11.85,"v":15.5},{"d":11.90,"v":15.5},{"d":11.95,"v":16.0},{"d":12.00,"v":16.5},{"d":12.05,"v":16.0},{"d":12.10,"v":15.0},{"d":12.15,"v":13.8},{"d":12.20,"v":13.5},{"d":12.25,"v":13.3},{"d":12.30,"v":13.5},{"d":12.35,"v":13.5},{"d":12.40,"v":14.5},{"d":12.45,"v":15.5},{"d":12.50,"v":16.8},{"d":12.55,"v":16.0},{"d":12.60,"v":15.0},{"d":12.65,"v":3.5},{"d":12.87,"v":9.3},{"d":12.92,"v":9.7},{"d":12.97,"v":9.0},{"d":13.01,"v":8.5},{"d":13.06,"v":7.8},{"d":13.12,"v":6.8},{"d":13.18,"v":6.0},{"d":13.26,"v":5.1},{"d":13.30,"v":4.5},{"d":13.34,"v":4.1},{"d":13.38,"v":3.5},{"d":13.42,"v":3.1},{"d":13.46,"v":2.6},{"d":13.50,"v":2.2},{"d":13.61,"v":2.2},{"d":13.66,"v":2.3},{"d":13.72,"v":2.4},{"d":13.77,"v":2.5},{"d":13.82,"v":2.6},{"d":13.89,"v":2.7},{"d":13.96,"v":2.8},{"d":14.00,"v":2.2},{"d":14.04,"v":1.8},{"d":14.08,"v":1.5},{"d":14.12,"v":1.4},{"d":14.16,"v":1.4},{"d":14.20,"v":1.4},{"d":14.26,"v":1.6},{"d":14.32,"v":1.8},{"d":14.36,"v":2.3},{"d":14.40,"v":2.7},{"d":14.44,"v":3.0},{"d":14.47,"v":3.3},{"d":14.51,"v":3.4},{"d":14.55,"v":3.5},{"d":14.59,"v":3.1},{"d":14.63,"v":2.7},{"d":14.67,"v":2.6},{"d":14.71,"v":2.7},{"d":14.75,"v":3.2},{"d":14.79,"v":3.9},{"d":14.83,"v":5.6},{"d":14.87,"v":6.2},{"d":14.91,"v":6.8},{"d":14.95,"v":7.8},{"d":14.98,"v":8.5},{"d":15.02,"v":8.1},{"d":15.06,"v":7.8},{"d":15.10,"v":7.6},{"d":15.14,"v":7.0},{"d":15.18,"v":6.4},{"d":15.22,"v":5.5},{"d":15.26,"v":4.7},{"d":15.30,"v":4.0},{"d":15.34,"v":3.5},{"d":15.38,"v":3.1},{"d":15.42,"v":2.7},{"d":15.46,"v":2.2},{"d":15.49,"v":1.7},{"d":15.53,"v":1.4},{"d":15.57,"v":1.2},{"d":15.61,"v":1.1},{"d":15.65,"v":1.0},{"d":15.69,"v":1.0},{"d":15.73,"v":1.0},{"d":15.77,"v":1.4},{"d":15.81,"v":1.8},{"d":15.85,"v":2.5},{"d":15.89,"v":3.1},{"d":15.93,"v":3.4},{"d":15.96,"v":3.7},{"d":16.00,"v":4.1},{"d":16.04,"v":4.5},{"d":16.08,"v":5.0},{"d":16.12,"v":5.6},{"d":16.16,"v":6.4},{"d":16.20,"v":7.2},{"d":16.24,"v":7.6},{"d":16.28,"v":7.0},{"d":16.32,"v":6.4},{"d":16.36,"v":5.8},{"d":16.40,"v":5.1},{"d":16.44,"v":6.0},{"d":16.47,"v":6.8},{"d":16.51,"v":7.5},{"d":16.55,"v":8.1},{"d":16.59,"v":8.5},{"d":16.63,"v":8.9},{"d":16.67,"v":8.9},{"d":16.71,"v":8.9},{"d":16.75,"v":8.7},{"d":16.79,"v":8.5},{"d":16.83,"v":8.3},{"d":16.87,"v":8.1},{"d":16.90,"v":8.7},{"d":16.93,"v":9.3},{"d":16.97,"v":10.2},{"d":17.01,"v":11.0},{"d":17.04,"v":10.8},{"d":17.06,"v":10.3},{"d":17.10,"v":9.0},{"d":17.14,"v":7.6},{"d":17.18,"v":7.2},{"d":17.22,"v":6.8},{"d":17.26,"v":6.8},{"d":17.30,"v":6.8},{"d":17.34,"v":7.4},{"d":17.38,"v":8.1},{"d":17.42,"v":9.0},{"d":17.45,"v":10.1},{"d":17.49,"v":12.6},{"d":17.53,"v":15.1},{"d":17.57,"v":16.2},{"d":17.61,"v":17.2},{"d":17.65,"v":17.6},{"d":17.69,"v":17.8},{"d":17.73,"v":17.2},{"d":17.77,"v":15.1},{"d":17.81,"v":12.2},{"d":17.85,"v":11.0},{"d":17.89,"v":8.5},{"d":17.93,"v":8.0},{"d":17.96,"v":7.8},{"d":18.00,"v":8.2},{"d":18.04,"v":8.5},{"d":18.08,"v":8.3},{"d":18.12,"v":8.1},{"d":18.16,"v":7.8},{"d":18.20,"v":7.6},{"d":18.24,"v":7.2},{"d":18.28,"v":6.8},{"d":18.32,"v":6.2},{"d":18.36,"v":5.6},{"d":18.40,"v":6.0},{"d":18.44,"v":6.8},{"d":18.48,"v":9.5},{"d":18.51,"v":12.6},{"d":18.55,"v":12.8},{"d":18.59,"v":13.0},{"d":18.63,"v":13.0},{"d":18.67,"v":12.8},{"d":18.70,"v":12.0},{"d":18.73,"v":11.0},{"d":18.76,"v":10.0},{"d":18.79,"v":8.9},{"d":18.83,"v":8.0},{"d":18.87,"v":7.2},{"d":18.91,"v":7.8},{"d":18.95,"v":8.5},{"d":19.00,"v":9.7},{"d":19.03,"v":9.5},{"d":19.06,"v":9.1},{"d":19.10,"v":8.0},{"d":19.14,"v":6.8},{"d":19.18,"v":6.0},{"d":19.22,"v":5.1},{"d":19.26,"v":4.5},{"d":19.30,"v":3.9},{"d":19.34,"v":3.9},{"d":19.38,"v":3.9},{"d":19.42,"v":4.8},{"d":19.45,"v":6.0},{"d":19.49,"v":9.7},{"d":19.53,"v":12.0},{"d":19.57,"v":12.6},{"d":19.61,"v":13.0},{"d":19.65,"v":12.9},{"d":19.69,"v":12.5},{"d":19.73,"v":10.1},{"d":19.77,"v":8.5},{"d":19.81,"v":7.5},{"d":19.86,"v":6.8},{"d":19.90,"v":6.5},{"d":19.95,"v":6.0},{"d":19.99,"v":5.5}],
"so2_sim": [{"d":11.00,"v":23.0},{"d":11.02,"v":18.0},{"d":11.05,"v":11.0},{"d":11.10,"v":9.5},{"d":11.15,"v":9.0},{"d":11.20,"v":9.5},{"d":11.25,"v":10.5},{"d":11.30,"v":11.0},{"d":11.35,"v":12.0},{"d":11.40,"v":14.0},{"d":11.45,"v":15.5},{"d":11.50,"v":13.0},{"d":11.55,"v":9.0},{"d":11.60,"v":8.0},{"d":11.65,"v":7.5},{"d":11.70,"v":7.2},{"d":11.75,"v":10.0},{"d":11.80,"v":14.0},{"d":11.85,"v":13.0},{"d":11.90,"v":10.0},{"d":11.95,"v":7.5},{"d":12.00,"v":6.5},{"d":12.05,"v":6.5},{"d":12.10,"v":7.0},{"d":12.15,"v":12.0},{"d":12.20,"v":18.0},{"d":12.25,"v":19.0},{"d":12.30,"v":22.0},{"d":12.35,"v":21.0},{"d":12.40,"v":23.5},{"d":12.45,"v":21.0},{"d":12.50,"v":17.0},{"d":12.55,"v":15.0},{"d":12.60,"v":14.0},{"d":12.65,"v":13.5},{"d":12.70,"v":9.0},{"d":12.75,"v":8.5},{"d":12.80,"v":9.0},{"d":12.85,"v":8.0},{"d":12.90,"v":9.0},{"d":12.95,"v":7.0},{"d":13.00,"v":5.0},{"d":13.10,"v":4.0},{"d":13.15,"v":3.8},{"d":13.20,"v":3.5},{"d":13.25,"v":4.2},{"d":13.30,"v":3.2},{"d":13.35,"v":3.0},{"d":13.40,"v":4.0},{"d":13.45,"v":3.8},{"d":13.50,"v":3.3},{"d":13.60,"v":3.2},{"d":13.70,"v":3.5},{"d":13.75,"v":4.2},{"d":13.80,"v":7.0},{"d":13.85,"v":12.0},{"d":13.90,"v":16.5},{"d":13.95,"v":14.0},{"d":14.00,"v":10.5},{"d":14.05,"v":10.0},{"d":14.10,"v":12.0},{"d":14.15,"v":12.5},{"d":14.20,"v":8.0},{"d":14.25,"v":6.0},{"d":14.30,"v":7.5},{"d":14.35,"v":14.5},{"d":14.40,"v":14.5},{"d":14.45,"v":14.0},{"d":14.50,"v":10.0},{"d":14.55,"v":8.0},{"d":14.60,"v":8.0},{"d":14.65,"v":7.0},{"d":14.70,"v":7.5},{"d":14.75,"v":9.0},{"d":14.80,"v":10.5},{"d":14.85,"v":8.5},{"d":14.90,"v":9.5},{"d":14.95,"v":10.0},{"d":15.00,"v":7.0},{"d":15.05,"v":5.0},{"d":15.10,"v":3.0},{"d":15.15,"v":2.0},{"d":15.20,"v":1.0},{"d":15.25,"v":0.6},{"d":15.30,"v":0.6},{"d":15.40,"v":0.8},{"d":15.50,"v":0.9},{"d":15.60,"v":0.9},{"d":15.70,"v":1.0},{"d":15.80,"v":1.5},{"d":15.85,"v":2.3},{"d":15.90,"v":2.6},{"d":15.95,"v":2.2},{"d":16.00,"v":1.9},{"d":16.10,"v":1.8},{"d":16.15,"v":2.2},{"d":16.20,"v":2.8},{"d":16.30,"v":4.0},{"d":16.35,"v":5.0},{"d":16.40,"v":6.5},{"d":16.45,"v":6.0},{"d":16.50,"v":5.3},{"d":16.55,"v":5.0},{"d":16.60,"v":5.5},{"d":16.65,"v":4.5},{"d":16.70,"v":4.8},{"d":16.75,"v":5.5},{"d":16.80,"v":6.5},{"d":16.85,"v":7.5},{"d":16.90,"v":8.0},{"d":16.95,"v":7.2},{"d":17.00,"v":6.5},{"d":17.05,"v":4.8},{"d":17.10,"v":4.5},{"d":17.15,"v":4.5},{"d":17.20,"v":4.2},{"d":17.25,"v":4.8},{"d":17.30,"v":5.2},{"d":17.35,"v":4.8},{"d":17.40,"v":4.5},{"d":17.45,"v":9.0},{"d":17.50,"v":12.0},{"d":17.55,"v":10.0},{"d":17.60,"v":10.0},{"d":17.65,"v":11.0},{"d":17.70,"v":14.0},{"d":17.75,"v":16.0},{"d":17.80,"v":19.0},{"d":17.85,"v":20.5},{"d":17.90,"v":20.8},{"d":17.95,"v":20.8},{"d":18.00,"v":18.0},{"d":18.05,"v":15.0},{"d":18.10,"v":14.5},{"d":18.15,"v":14.0},{"d":18.20,"v":13.0},{"d":18.25,"v":12.0},{"d":18.30,"v":10.5},{"d":18.35,"v":10.2},{"d":18.40,"v":12.3},{"d":18.45,"v":11.0},{"d":18.50,"v":10.0},{"d":18.55,"v":9.5},{"d":18.60,"v":8.7},{"d":18.65,"v":10.5},{"d":18.70,"v":8.5},{"d":18.75,"v":8.0},{"d":18.80,"v":5.0},{"d":18.85,"v":4.0},{"d":18.90,"v":4.0},{"d":18.95,"v":5.0},{"d":19.00,"v":6.0},{"d":19.05,"v":7.0},{"d":19.10,"v":8.0},{"d":19.15,"v":6.5},{"d":19.20,"v":6.0},{"d":19.25,"v":7.5},{"d":19.30,"v":6.0},{"d":19.35,"v":6.5},{"d":19.40,"v":8.5},{"d":19.45,"v":7.0},{"d":19.50,"v":4.0},{"d":19.55,"v":3.3},{"d":19.60,"v":3.2},{"d":19.70,"v":3.5},{"d":19.80,"v":4.5},{"d":19.90,"v":4.8},{"d":20.00,"v":5.2}]
},
"concat": [
{
  "width": 380, "height": 161,
  "title": {"text": "R=0.77, MB=13.2 μg m⁻³, NMB=10.0%, MFB=15.7%"},
  "encoding": {
    "x": {"field": "d", "type": "quantitative", "scale": {"domain": [11, 20], "nice": false, "zero": false}, "axis": {"title": null, "values": [11,11.5,12,12.5,13,13.5,14,14.5,15,15.5,16,16.5,17,17.5,18,18.5,19,19.5,20], "labelExpr": "datum.value % 1 == 0 && datum.value < 20 ? datum.value : ''"}},
    "y": {"field": "v", "type": "quantitative", "scale": {"domain": [0, 400], "nice": false}, "axis": {"title": "PM₂.₅ (μg m⁻³)", "titlePadding": 9, "values": [0,50,100,150,200,250,300,350,400], "labelExpr": "datum.value % 100 == 0 ? datum.value : ''"}}
  },
  "layer": [
    {"data": {"name": "pm_obs"}, "mark": {"type": "point", "filled": true, "opacity": 1, "size": 1180},
     "encoding": {
       "color": {"datum": "OBS", "type": "nominal", "scale": {"domain": ["OBS", "SIM"], "range": ["black", "#ff0000"]},
         "legend": {"title": null, "orient": "none", "legendX": 7.5, "legendY": 4.3, "padding": 4, "rowPadding": 0, "strokeColor": "black", "fillColor": "white", "symbolSize": 1369, "clipHeight": 16, "labelOffset": 21, "labelFont": "Liberation Sans", "labelFontSize": 16, "labelFontWeight": "bold", "labelColor": {"expr": "datum.value === 'SIM' ? '#ff0000' : 'black'"}, "labelExpr": "datum.label + '\u00a0\u00a0\u00a0\u00a0\u00a0\u00a0\u00a0'"}},
       "shape": {"datum": "OBS", "type": "nominal", "scale": {"domain": ["OBS", "SIM"], "range": ["M-0.16,0A0.16,0.16,0,1,0,0.16,0A0.16,0.16,0,1,0,-0.16,0Z", "M-1,-0.055H1V0.055H-1Z"]},
         "legend": {"title": null, "orient": "none", "legendX": 7.5, "legendY": 4.3, "padding": 4, "rowPadding": 0, "strokeColor": "black", "fillColor": "white", "symbolSize": 1369, "clipHeight": 16, "labelOffset": 21, "labelFont": "Liberation Sans", "labelFontSize": 16, "labelFontWeight": "bold", "labelColor": {"expr": "datum.value === 'SIM' ? '#ff0000' : 'black'"}, "labelExpr": "datum.label + '\u00a0\u00a0\u00a0\u00a0\u00a0\u00a0\u00a0'"}}
     }},
    {"data": {"name": "pm_sim"}, "mark": {"type": "line", "color": "#ff0000", "strokeWidth": 2}}
  ]
},
{
  "width": 380, "height": 161,
  "title": {"text": "R=0.78, MB=8.5 ppbv, NMB=21.6%, MFB=20.2%"},
  "encoding": {
    "x": {"field": "d", "type": "quantitative", "scale": {"domain": [11, 20], "nice": false, "zero": false}, "axis": {"title": null, "values": [11,11.5,12,12.5,13,13.5,14,14.5,15,15.5,16,16.5,17,17.5,18,18.5,19,19.5,20], "labelExpr": "datum.value % 1 == 0 && datum.value < 20 ? datum.value : ''"}},
    "y": {"field": "v", "type": "quantitative", "scale": {"domain": [0, 120], "nice": false}, "axis": {"title": "NO₂ (ppbv)", "titlePadding": -2, "values": [0,15,30,45,60,75,90,105,120], "labelExpr": "datum.value % 30 == 0 ? datum.value : ''"}}
  },
  "layer": [
    {"data": {"name": "no2_obs"}, "mark": {"type": "point", "filled": true, "opacity": 1, "size": 24, "shape": "circle", "color": "black"}},
    {"data": {"name": "no2_sim"}, "mark": {"type": "line", "color": "#ff0000", "strokeWidth": 2}}
  ]
},
{
  "width": 380, "height": 161,
  "title": {"text": "R=0.66, MB=-0.1 ppbv, NMB=-1.2%, MFB=-36.0%"},
  "encoding": {
    "x": {"field": "d", "type": "quantitative", "scale": {"domain": [11, 20], "nice": false, "zero": false}, "axis": {"title": null, "values": [11,11.5,12,12.5,13,13.5,14,14.5,15,15.5,16,16.5,17,17.5,18,18.5,19,19.5,20], "labelExpr": "datum.value % 1 == 0 && datum.value < 20 ? datum.value : ''"}},
    "y": {"field": "v", "type": "quantitative", "scale": {"domain": [0, 40], "nice": false}, "axis": {"title": "O₃ (ppbv)", "titlePadding": 18, "values": [0,5,10,15,20,25,30,35,40], "labelExpr": "datum.value % 10 == 0 ? datum.value : ''"}}
  },
  "layer": [
    {"data": {"name": "o3_obs"}, "mark": {"type": "point", "filled": true, "opacity": 1, "size": 24, "shape": "circle", "color": "black"}},
    {"data": {"name": "o3_sim"}, "mark": {"type": "line", "color": "#ff0000", "strokeWidth": 2}}
  ]
},
{
  "width": 380, "height": 161,
  "title": {"text": "R=0.73, MB=-0.1 ppmv, NMB=-4.9%, MFB=6.4%"},
  "encoding": {
    "x": {"field": "d", "type": "quantitative", "scale": {"domain": [11, 20], "nice": false, "zero": false}, "axis": {"title": null, "values": [11,11.5,12,12.5,13,13.5,14,14.5,15,15.5,16,16.5,17,17.5,18,18.5,19,19.5,20], "labelExpr": "datum.value % 1 == 0 && datum.value < 20 ? datum.value : ''"}},
    "y": {"field": "v", "type": "quantitative", "scale": {"domain": [0, 4], "nice": false}, "axis": {"title": "CO (ppmv)", "titlePadding": 15, "values": [0,0.5,1,1.5,2,2.5,3,3.5,4], "labelExpr": "datum.value % 1 == 0 ? datum.value : ''"}}
  },
  "layer": [
    {"data": {"name": "co_obs"}, "mark": {"type": "point", "filled": true, "opacity": 1, "size": 24, "shape": "circle", "color": "black"}},
    {"data": {"name": "co_sim"}, "mark": {"type": "line", "color": "#ff0000", "strokeWidth": 2}}
  ]
},
{
  "width": 380, "height": 161,
  "title": {"text": "R=0.39, MB=0.1 ppbv, NMB=0.0%, MFB=-2.9%"},
  "encoding": {
    "x": {"field": "d", "type": "quantitative", "scale": {"domain": [11, 20], "nice": false, "zero": false}, "axis": {"title": null, "values": [11,11.5,12,12.5,13,13.5,14,14.5,15,15.5,16,16.5,17,17.5,18,18.5,19,19.5,20], "labelExpr": "datum.value % 1 == 0 && datum.value < 20 ? datum.value : ''"}},
    "y": {"field": "v", "type": "quantitative", "scale": {"domain": [0, 40], "nice": false}, "axis": {"title": "SO₂ (ppbv)", "titlePadding": 18, "values": [0,5,10,15,20,25,30,35,40], "labelExpr": "datum.value % 10 == 0 ? datum.value : ''"}}
  },
  "layer": [
    {"data": {"name": "so2_obs"}, "mark": {"type": "point", "filled": true, "opacity": 1, "size": 24, "shape": "circle", "color": "black"}},
    {"data": {"name": "so2_sim"}, "mark": {"type": "line", "color": "#ff0000", "strokeWidth": 2}}
  ]
}
]
}
